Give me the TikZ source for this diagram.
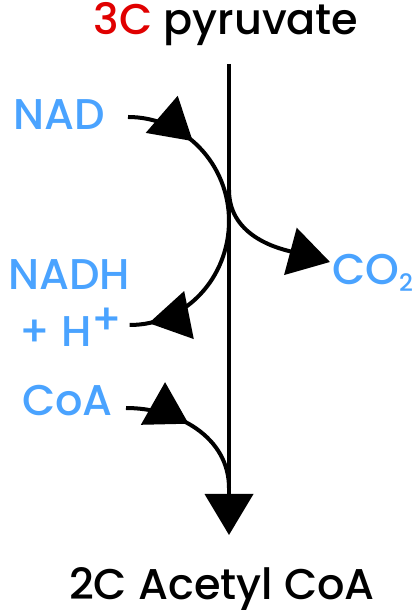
\documentclass[tikz,border=0pt]{standalone}
\usepackage{fontspec}
\setmainfont{Poppins}[UprightFont=* Medium]
\usetikzlibrary{arrows.meta,decorations.markings}
\definecolor{chemblue}{RGB}{74,163,255}
\definecolor{carbonred}{RGB}{224,0,0}
\tikzset{
  label text/.style={inner sep=0pt, font=\fontsize{43}{56}\selectfont},
  molecule/.style={label text, text=chemblue},
  flow/.style={line width=4pt},
  head/.style={-{Triangle[length=41pt,width=48pt]}},
  mid head/.style={postaction={decorate,
    decoration={markings, mark=at position #1 with {\arrow{Triangle[length=41pt,width=48pt]}}}}}
}
\begin{document}
\begin{tikzpicture}[x=1pt,y=1pt]
  \useasboundingbox (0,0) rectangle (415,610);
  % labels
  \node[label text, anchor=base] (pyr) at (226,575) {\textcolor{carbonred}{3C} pyruvate};
  \node[label text, anchor=base] (acc) at (222,10) {2C Acetyl CoA};
  \node[molecule, anchor=base east] (nad) at (105,480) {NAD};
  \node[molecule, anchor=base] (nadh) at (69,320) {NADH};
  \node[molecule, anchor=base] (hp) at (71,263) {+ H\raisebox{12pt}{+}};
  \node[molecule, anchor=base west] (co2) at (332,325)
    {CO\raisebox{-7pt}{\fontsize{24}{24}\selectfont 2}};
  \node[molecule, anchor=base east] (coa) at (113,194) {CoA};
  % points on the main axis
  \coordinate (top) at (229,546);
  \coordinate (bot) at (229,75);
  \coordinate (t1) at (229,389);
  \coordinate (f1) at (229,420);
  \coordinate (t2) at (229,122);
  % main axis
  \draw[flow, head] (top) -- (bot);
  % side reactions
  \draw[flow, mid head=0.22, mid head=0.94]
    ([shift={(23pt,13pt)}]nad.base east) to[out=0,in=90] (t1)
    to[out=-90,in=0] ([shift={(7pt,22pt)}]hp.base east);
  \draw[flow, head] (f1) to[out=-90,in=165] ([shift={(-2pt,23pt)}]co2.base west);
  \draw[flow, mid head=0.45] ([shift={(13pt,8pt)}]coa.base east) to[out=0,in=90] (t2);
\end{tikzpicture}
\end{document}
